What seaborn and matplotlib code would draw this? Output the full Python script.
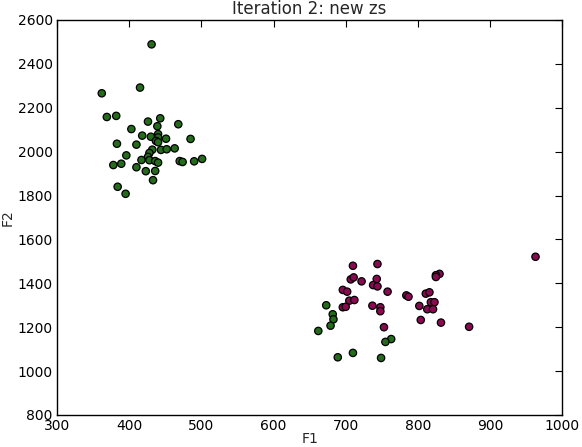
import matplotlib
matplotlib.use("Agg")
import matplotlib.pyplot as plt
import seaborn as sns
import pandas as pd

green_f1 = [431, 362, 415, 369, 382, 443, 426, 403, 439, 468, 418, 430, 440, 440, 451, 485,
            383, 410, 437, 440, 444, 432, 452, 463, 428, 396, 426, 417, 428, 436, 440, 470,
            474, 490, 501, 378, 389, 410, 423, 436, 433, 384, 395,
            673, 682, 683, 679, 662, 763, 755, 689, 710, 749]
green_f2 = [2489, 2266, 2292, 2158, 2163, 2152, 2137, 2103, 2116, 2125, 2073, 2068, 2080, 2065, 2059, 2058,
            2036, 2032, 2049, 2043, 2008, 2009, 2011, 2015, 1994, 1983, 1976, 1962, 1961, 1957, 1950, 1957,
            1953, 1956, 1967, 1939, 1945, 1929, 1911, 1912, 1870, 1840, 1808,
            1300, 1259, 1236, 1207, 1183, 1146, 1133, 1063, 1083, 1060]
purple_f1 = [710, 744, 707, 711, 722, 738, 743, 744, 696, 702, 758, 784, 787, 705, 712, 696,
             700, 737, 748, 748, 753, 963, 830, 825, 825, 811, 816, 818, 823, 802, 813, 821,
             804, 832, 871]
purple_f2 = [1480, 1488, 1418, 1427, 1409, 1392, 1420, 1386, 1370, 1362, 1362, 1345, 1339, 1321, 1324, 1291,
             1293, 1298, 1291, 1273, 1200, 1521, 1443, 1437, 1429, 1353, 1359, 1314, 1314, 1297, 1282, 1282,
             1233, 1221, 1202]

df = pd.DataFrame({
    "F1": green_f1 + purple_f1,
    "F2": green_f2 + purple_f2,
    "z": ["g"] * len(green_f1) + ["p"] * len(purple_f1),
})

sns.set_style("white")
plt.rcParams["font.family"] = ["DejaVu Sans"]
fig = plt.figure(figsize=(5.82, 4.47), dpi=100)
ax = fig.add_axes([0.098, 0.0716, 0.868, 0.8837])
sns.scatterplot(data=df, x="F1", y="F2", hue="z",
                palette={"g": "#256b1c", "p": "#8a0a52"},
                s=28, edgecolor="black", linewidth=0.9, legend=False, ax=ax, zorder=3)
ax.set_xlim(300, 1000)
ax.set_ylim(800, 2600)
ax.set_xticks(range(300, 1001, 100))
ax.set_yticks(range(800, 2601, 200))
ax.tick_params(direction="in", top=True, right=True, length=5, width=0.8, labelsize=10, pad=3, colors="black")
for s in ax.spines.values():
    s.set_color("black")
    s.set_linewidth(1.0)
ax.set_title("Iteration 2: new zs", fontsize=12, pad=4)
ax.set_xlabel("F1", fontsize=10, labelpad=-1)
ax.set_ylabel("F2", fontsize=10, labelpad=2)
fig.savefig("out.png", dpi=100)
